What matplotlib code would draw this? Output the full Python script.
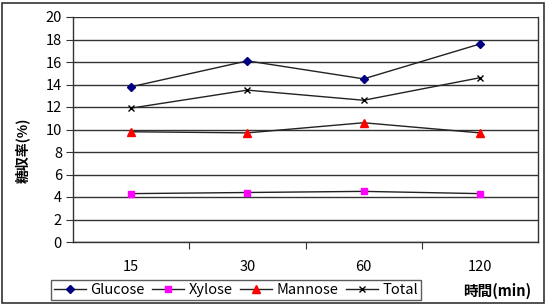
import matplotlib
matplotlib.use("Agg")
import matplotlib.pyplot as plt
from matplotlib.patches import Rectangle

plt.rcParams['font.family'] = ['Noto Sans CJK JP', 'DejaVu Sans']

categories = ["15", "30", "60", "120"]
glucose = [13.8, 16.1, 14.5, 17.6]
xylose = [4.3, 4.4, 4.5, 4.3]
mannose = [9.8, 9.7, 10.6, 9.7]
total = [11.9, 13.5, 12.6, 14.6]
yticks = [0, 2, 4, 6, 8, 10, 12, 14, 16, 18, 20]

fig = plt.figure(figsize=(5.46, 3.05), dpi=100)
ax = fig.add_axes([73/546, 1-242/305, (538-73)/546, (242-17)/305])

x = list(range(len(categories)))
lc = '#222222'
ax.plot(x, glucose, color=lc, lw=1, marker='D', ms=4.5, mfc='#000080', mec='#000080', label='Glucose')
ax.plot(x, xylose, color=lc, lw=1, marker='s', ms=4.5, mfc='#ff00ff', mec='#ff00ff', label='Xylose')
ax.plot(x, mannose, color=lc, lw=1, marker='^', ms=5.5, mfc='#ff0000', mec='#ff0000', label='Mannose')
ax.plot(x, total, color=lc, lw=1, marker='x', ms=4, mfc='#000000', mec='#000000', mew=1, label='Total')

ax.set_xlim(-0.5, len(categories) - 0.5)
ax.set_ylim(0, 20)
ax.set_yticks(yticks)
ax.set_yticklabels([str(v) for v in yticks], fontsize=10.5)
ax.yaxis.grid(True, color='#333333', lw=1)
ax.set_axisbelow(True)

ax.set_xticks([i + 0.5 for i in range(len(categories) - 1)])
ax.set_xticklabels([])
ax.tick_params(axis='x', direction='out', length=5, color='#333333')
ax.tick_params(axis='y', direction='out', length=5, color='#333333', pad=3)
for i, c in enumerate(categories):
    ax.text(i, -2.2, c, ha='center', va='center', fontsize=10.5)

for s in ['left', 'bottom', 'right']:
    ax.spines[s].set_color('#333333')
    ax.spines[s].set_linewidth(1)
ax.spines['top'].set_visible(False)

fig.text(22/546, 1-150/305, '糖収率(%)', rotation=90, ha='center', va='center',
         fontsize=10, fontweight='bold')
fig.text(497/546, 1-291/305, '時間(min)', ha='center', va='center',
         fontsize=10.5, fontweight='bold')

leg = fig.legend(loc='center', bbox_to_anchor=(236/546, 1-290/305), ncol=4,
                 fontsize=10.5, frameon=True, fancybox=False, edgecolor='#333333',
                 handlelength=2.2, handletextpad=0.3, columnspacing=0.5,
                 borderpad=0.2, borderaxespad=0)
leg.get_frame().set_linewidth(1)

fig.patches.append(Rectangle((0.004, 0.006), 0.992, 0.984, transform=fig.transFigure,
                             fill=False, edgecolor='#333333', lw=1.2))

fig.savefig('out.png', dpi=100)
